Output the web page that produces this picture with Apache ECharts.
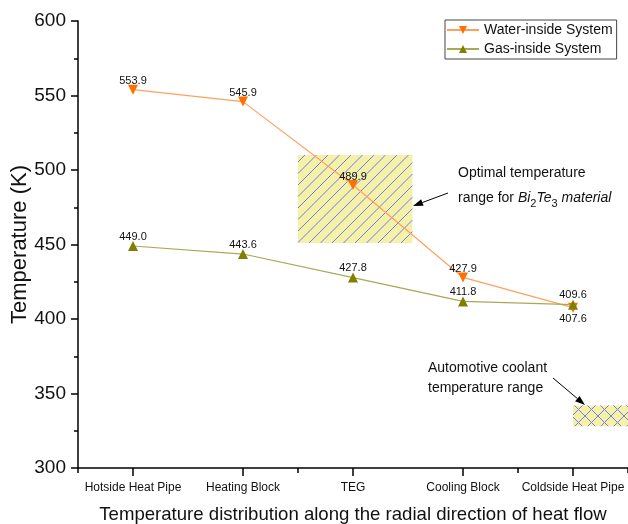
<!DOCTYPE html>
<html><head><meta charset="utf-8">
<script src="https://cdn.jsdelivr.net/npm/echarts@6/dist/echarts.min.js"></script>
<style>html,body{margin:0;padding:0;background:#fff}#c{width:628px;height:524px}</style>
</head><body><div id="c"></div><script>
const categories = ['Hotside Heat Pipe', 'Heating Block', 'TEG', 'Cooling Block', 'Coldside Heat Pipe'];
const waterInside = [553.9, 545.9, 489.9, 427.9, 407.6];
const gasInside = [449.0, 443.6, 427.8, 411.8, 409.6];
const yMin = 300, yMax = 600, yInterval = 50;
// [x start (category index), x end, y low, y high]
const optimalRange = [1.5, 2.54, 451, 510];
const coolantRange = [4.0, 4.5, 328, 342];

const FF = 'Arial, "Liberation Sans", sans-serif';
const HATCH = '#6f7fe6';

// diagonal hatch lines clipped to a rect (x0,y0)-(x1,y1)
function hatchLines(x0, y0, x1, y1, step, cross) {
  const out = [];
  const st = { stroke: HATCH, lineWidth: 1 };
  for (let c = Math.ceil((x0 + y0) / step) * step; c <= x1 + y1; c += step) {
    const xa = Math.max(x0, c - y1), xb = Math.min(x1, c - y0);
    if (xb > xa) out.push({ type: 'line', shape: { x1: xa, y1: c - xa, x2: xb, y2: c - xb }, style: st });
  }
  if (cross) {
    for (let c = Math.ceil((x0 - y1) / step) * step; c <= x1 - y0; c += step) {
      const xa = Math.max(x0, c + y0), xb = Math.min(x1, c + y1);
      if (xb > xa) out.push({ type: 'line', shape: { x1: xa, y1: xa - c, x2: xb, y2: xb - c }, style: st });
    }
  }
  return out;
}

function boxRender(step, cross) {
  return function (params, api) {
    const p1 = api.coord([api.value(0), api.value(3)]);
    const p2 = api.coord([api.value(1), api.value(2)]);
    return {
      type: 'group',
      children: [
        { type: 'rect', shape: { x: p1[0], y: p1[1], width: p2[0] - p1[0], height: p2[1] - p1[1] }, style: { fill: '#f6f1a8' } },
        ...hatchLines(p1[0], p1[1], p2[0], p2[1], step, cross)
      ]
    };
  };
}

function arrow(x1, y1, x2, y2) {
  const dx = x2 - x1, dy = y2 - y1, L = Math.hypot(dx, dy);
  const ux = dx / L, uy = dy / L, hl = 10, hw = 3.5;
  const bx = x2 - ux * hl, by = y2 - uy * hl;
  return [
    { type: 'line', shape: { x1, y1, x2: bx, y2: by }, style: { stroke: '#000', lineWidth: 1 } },
    { type: 'polygon', shape: { points: [[x2, y2], [bx - uy * hw, by + ux * hw], [bx + uy * hw, by - ux * hw]] }, style: { fill: '#000' } }
  ];
}

const labelFmt = p => Number(p.value).toFixed(1);

const chart = echarts.init(document.getElementById('c'));
chart.setOption({
  animation: false,
  backgroundColor: '#fff',
  textStyle: { fontFamily: FF },
  grid: { left: 78, right: 0, top: 21, bottom: 56, containLabel: false, outerBoundsMode: 'none' },
  legend: {
    orient: 'vertical', left: 445, top: 20,
    data: ['Water-inside System', 'Gas-inside System'],
    borderColor: '#444', borderWidth: 1, padding: [3, 4, 3, 1],
    itemWidth: 32, itemHeight: 10, itemGap: 5,
    textStyle: { fontFamily: FF, fontSize: 14, color: '#111' }
  },
  xAxis: [{
    type: 'category', data: categories, position: 'bottom',
    axisLine: { onZero: false, lineStyle: { color: '#000', width: 1.5 } },
    axisTick: { show: true, inside: false, alignWithLabel: true, length: 8, lineStyle: { color: '#000', width: 1.5 } },
    axisLabel: { fontFamily: FF, fontSize: 12, color: '#111', margin: 14, interval: 0 },
    name: 'Temperature distribution along the radial direction of heat flow',
    nameLocation: 'middle', nameGap: 37, nameMoveOverlap: false,
    nameTextStyle: { fontFamily: FF, fontSize: 18.6, color: '#111' }
  }, {
    type: 'category', data: categories, position: 'bottom',
    axisLine: { show: false, onZero: false },
    axisTick: { show: true, inside: false, length: 5, lineStyle: { color: '#000', width: 1.5 } },
    axisLabel: { show: false }
  }, {
    type: 'value', min: -0.5, max: 4.5, show: false, position: 'bottom', axisLine: { onZero: false }
  }],
  yAxis: {
    type: 'value', min: yMin, max: yMax, interval: yInterval,
    axisLine: { show: true, onZero: false, lineStyle: { color: '#000', width: 1.5 } },
    axisTick: { show: true, length: 7, lineStyle: { color: '#000', width: 1.5 } },
    minorTick: { show: true, splitNumber: 2, length: 4, lineStyle: { color: '#000', width: 1.5 } },
    splitLine: { show: false },
    axisLabel: { fontFamily: FF, fontSize: 19, color: '#111', margin: 12 },
    name: 'Temperature (K)', nameLocation: 'middle', nameGap: 47, nameMoveOverlap: false,
    nameTextStyle: { fontFamily: FF, fontSize: 22, color: '#111' }
  },
  series: [{
    type: 'custom', xAxisIndex: 2, z: 1, silent: true,
    renderItem: boxRender(11.5, false), data: [optimalRange]
  }, {
    type: 'custom', xAxisIndex: 2, z: 1, silent: true,
    renderItem: boxRender(13, true), data: [coolantRange], clip: false
  }, {
    name: 'Water-inside System', type: 'line', xAxisIndex: 0, z: 3,
    data: waterInside.map((v, i) => i === 4 ? { value: v, label: { position: 'bottom', distance: 1 } } : v),
    symbol: 'triangle', symbolRotate: 180, symbolSize: 10,
    lineStyle: { color: '#ffa060', width: 1.2 },
    itemStyle: { color: '#ff7000' },
    label: { show: true, position: 'top', distance: -2, fontFamily: FF, fontSize: 11, color: '#111', formatter: labelFmt }
  }, {
    name: 'Gas-inside System', type: 'line', xAxisIndex: 0, z: 4,
    data: gasInside,
    symbol: 'triangle', symbolSize: 10,
    lineStyle: { color: '#a8a858', width: 1.2 },
    itemStyle: { color: '#808000' },
    label: { show: true, position: 'top', distance: -1, fontFamily: FF, fontSize: 11, color: '#111', formatter: labelFmt }
  }],
  graphic: [
    { type: 'text', left: 458, top: 166, style: { text: 'Optimal temperature', font: '14px ' + FF, fill: '#111' } },
    { type: 'text', left: 458, top: 191, style: {
      text: 'range for {i|Bi}{s|2}{i|Te}{s|3}{i| material}', font: '14px ' + FF, fill: '#111',
      rich: { i: { fontStyle: 'italic', fontSize: 14, fontFamily: FF, fill: '#111' }, s: { fontSize: 11, fontFamily: FF, fill: '#111', padding: [12, 0, 0, 0] } }
    } },
    { type: 'text', left: 428, top: 361, style: { text: 'Automotive coolant', font: '14px ' + FF, fill: '#111' } },
    { type: 'text', left: 428, top: 381, style: { text: 'temperature range', font: '14px ' + FF, fill: '#111' } },
    ...arrow(448, 193, 413, 206),
    ...arrow(553, 378, 585, 405)
  ]
});
</script></body></html>
